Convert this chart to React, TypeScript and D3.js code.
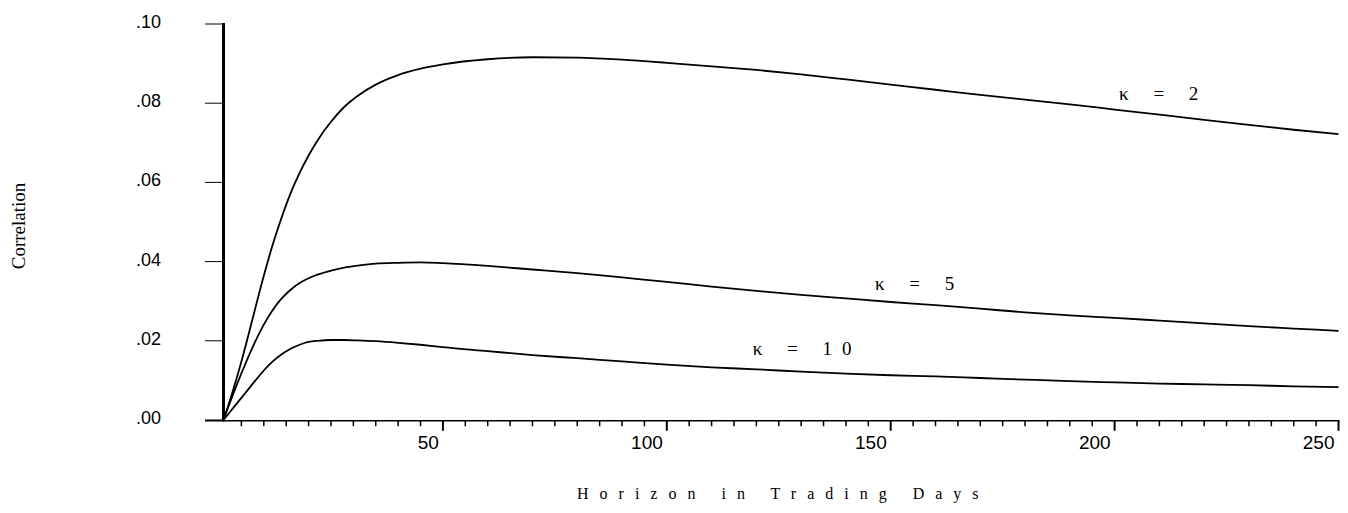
import React from "react";
import * as d3 from "d3";

const days = [1, 2, 3, 4, 5, 6, 8, 10, 12, 14, 16, 18, 20, 22, 25, 28, 31, 35, 40, 45, 50, 60, 70, 80, 90, 100, 110, 120, 130, 140, 150, 160, 170, 180, 190, 200, 210, 220, 230, 240, 250];

const kappa2 = [0, 0.0034, 0.007, 0.0108, 0.0148, 0.019, 0.0278, 0.0364, 0.0443, 0.0512, 0.0573, 0.0624, 0.0668, 0.0706, 0.0753, 0.0791, 0.0819, 0.0847, 0.0871, 0.0887, 0.0898, 0.0911, 0.0916, 0.0915, 0.091, 0.0902, 0.0893, 0.0884, 0.0873, 0.086, 0.0847, 0.0834, 0.0821, 0.0809, 0.0797, 0.0784, 0.0771, 0.0758, 0.0745, 0.0733, 0.0722];

const kappa5 = [0, 0.0031, 0.0061, 0.009, 0.0118, 0.0145, 0.0196, 0.0241, 0.0278, 0.0307, 0.0329, 0.0346, 0.0358, 0.0367, 0.0377, 0.0385, 0.039, 0.0395, 0.0397, 0.0398, 0.0396, 0.0389, 0.038, 0.0371, 0.036, 0.0349, 0.0337, 0.0326, 0.0316, 0.0307, 0.0298, 0.029, 0.0281, 0.0272, 0.0264, 0.0258, 0.0251, 0.0244, 0.0237, 0.0231, 0.0225];

const kappa10 = [0, 0.0014, 0.0028, 0.0042, 0.0056, 0.007, 0.0098, 0.0125, 0.0148, 0.0166, 0.018, 0.019, 0.0197, 0.02, 0.0202, 0.0202, 0.0201, 0.0199, 0.0195, 0.019, 0.0184, 0.0174, 0.0164, 0.0156, 0.0148, 0.014, 0.0133, 0.0128, 0.0122, 0.0117, 0.0113, 0.011, 0.0106, 0.0102, 0.0098, 0.0095, 0.0092, 0.009, 0.0088, 0.0085, 0.0083];

const seriesLabels = ["κ = 2", "κ = 5", "κ = 10"];
const labelDays = [201, 146.5, 119.2];
const labelValues = [0.0808, 0.0328, 0.0164];

const yTicks = [0, 0.02, 0.04, 0.06, 0.08, 0.1];
const yTickLabels = [".00", ".02", ".04", ".06", ".08", ".10"];
const xMajorTicks = [50, 100, 150, 200, 250];
const xMinorTicks = [5, 10, 15, 20, 25, 30, 35, 40, 45, 55, 60, 65, 70, 75, 80, 85, 90, 95, 105, 110, 115, 120, 125, 130, 135, 140, 145, 155, 160, 165, 170, 175, 180, 185, 190, 195, 205, 210, 215, 220, 225, 230, 235, 240, 245];

const W = 1348;
const H = 513;

export default function App() {
  const x = d3.scaleLinear().domain([1, 250]).range([223.5, 1338.5]);
  const y = d3.scaleLinear().domain([0, 0.1]).range([420, 24]);

  const line = d3
    .line<number>()
    .x((_, i) => x(days[i]))
    .y((d) => y(d))
    .curve(d3.curveMonotoneX);

  const series = [kappa2, kappa5, kappa10];
  const axisY = y(0) + 0.75;
  const axisX = x(1);

  return (
    <svg
      width={W}
      height={H}
      style={{ position: "absolute", left: 0, top: 0, background: "#fff" }}
    >
      <rect x={0} y={0} width={W} height={H} fill="#fff" />
      {series.map((s, i) => (
        <path
          key={i}
          d={line(s) || ""}
          fill="none"
          stroke="#000"
          strokeWidth={1.8}
          strokeLinejoin="round"
        />
      ))}
      <line x1={205} x2={x(250) + 1} y1={axisY} y2={axisY} stroke="#000" strokeWidth={1.5} />
      {xMinorTicks.map((t) => (
        <line key={"mi" + t} x1={x(t)} x2={x(t)} y1={axisY} y2={axisY + 5.5} stroke="#000" strokeWidth={1.5} />
      ))}
      {xMajorTicks.map((t) => (
        <line key={"ma" + t} x1={x(t)} x2={x(t)} y1={axisY} y2={axisY + 10} stroke="#000" strokeWidth={2} />
      ))}
      {xMajorTicks.map((t) => (
        <text
          key={"ml" + t}
          x={x(t) - 4}
          y={449}
          textAnchor="end"
          fontFamily="'Liberation Sans', Arial, sans-serif"
          fontSize={19}
          fill="#000"
        >
          {t}
        </text>
      ))}
      <line x1={axisX} x2={axisX} y1={y(0.1) - 1} y2={axisY + 0.75} stroke="#000" strokeWidth={3} />
      {yTicks.map((t, i) => (
        <g key={"yt" + i}>
          <line x1={205} x2={axisX} y1={y(t)} y2={y(t)} stroke="#000" strokeWidth={1} />
          <text
            x={161}
            y={y(t) + 4}
            textAnchor="end"
            fontFamily="'Liberation Sans', Arial, sans-serif"
            fontSize={18}
            fill="#000"
          >
            {yTickLabels[i]}
          </text>
        </g>
      ))}
      {seriesLabels.map((l, i) => (
        <text
          key={"sl" + i}
          x={x(labelDays[i])}
          y={y(labelValues[i])}
          fontFamily="'Liberation Serif', 'Times New Roman', serif"
          fontSize={19}
          letterSpacing={10}
          fill="#000"
          style={{ whiteSpace: "pre" }}
        >
          {l}
        </text>
      ))}
      <text
        x={577}
        y={499}
        fontFamily="'Liberation Serif', 'Times New Roman', serif"
        fontSize={16}
        letterSpacing={11}
        fill="#000"
      >
        Horizon in Trading Days
      </text>
      <text
        transform="translate(25,226) rotate(-90)"
        textAnchor="middle"
        fontFamily="'Liberation Serif', 'Times New Roman', serif"
        fontSize={19}
        fill="#000"
      >
        Correlation
      </text>
    </svg>
  );
}
